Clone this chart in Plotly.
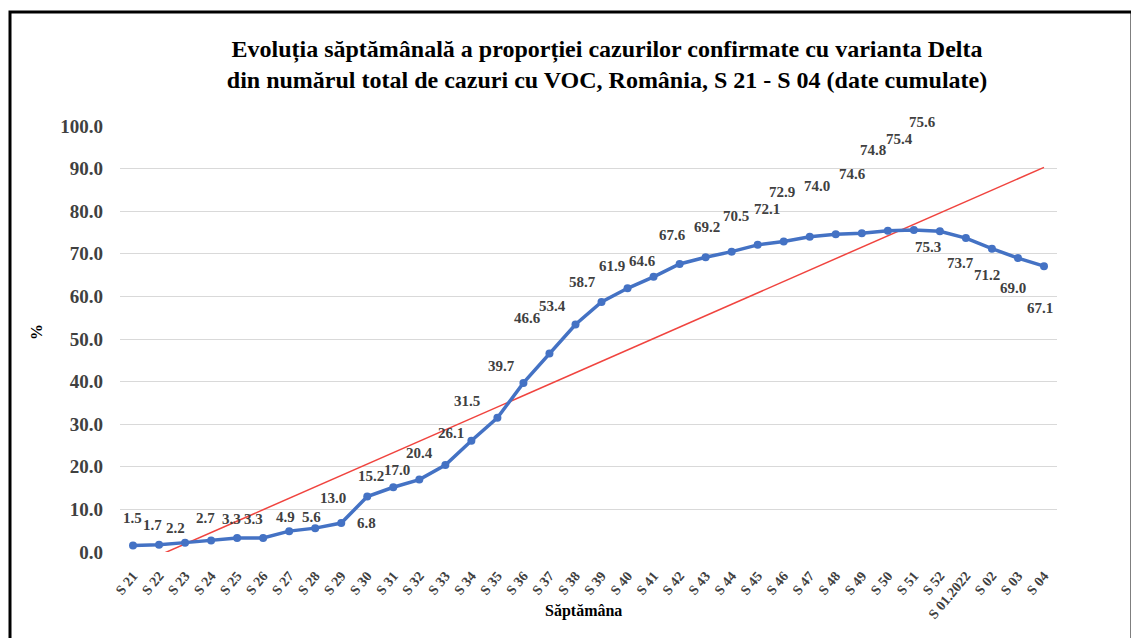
import numpy as np
import plotly.graph_objects as go

# ---- data ----
weeks = ["S 21", "S 22", "S 23", "S 24", "S 25", "S 26", "S 27", "S 28", "S 29", "S 30",
         "S 31", "S 32", "S 33", "S 34", "S 35", "S 36", "S 37", "S 38", "S 39", "S 40",
         "S 41", "S 42", "S 43", "S 44", "S 45", "S 46", "S 47", "S 48", "S 49", "S 50",
         "S 51", "S 52", "S 01.2022", "S 02", "S 03", "S 04"]
delta_pct = [1.5, 1.7, 2.2, 2.7, 3.3, 3.3, 4.9, 5.6, 6.8, 13.0,
             15.2, 17.0, 20.4, 26.1, 31.5, 39.7, 46.6, 53.4, 58.7, 61.9,
             64.6, 67.6, 69.2, 70.5, 72.1, 72.9, 74.0, 74.6, 74.8, 75.4,
             75.6, 75.3, 73.7, 71.2, 69.0, 67.1]
y_ticks = [0, 10, 20, 30, 40, 50, 60, 70, 80, 90, 100]

# ---- label placement (pixel shifts, styling only) ----
label_dx = [-1, -7, -10, -6, -6, -10, -4, -4, 25, -34,
            -22, -22, -26, -20, -30, -22, -22, -23, -19, -16,
            -11, -7, 1, 4, 9, -2, 7, 17, 11, 12,
            9, -12, -5, -5, -5, -4]
label_dy = [-28, -20, -15, -23, -19, -19, -14, -11, 0, 1,
            -11, -10, -12, -8, -17, -17, -35, -19, -20, -22,
            -16, -29, -30, -36, -36, -49, -51, -60, -83, -92,
            -108, 16, 25, 26, 30, 42]

W, H = 1139, 638
OFF = 8  # default page body margin
# desired plot area in page pixels
PL, PR, PT, PB = 120, 1057, 126, 552
ML, MR, MT, MB = PL - OFF, W - (PR - OFF), PT - OFF, H - (PB - OFF)
pw, ph = PR - PL, PB - PT


def px_x(x):
    return (x - PL) / pw


def px_y(y):
    return (PB - y) / ph


idx = np.arange(len(weeks))
slope, intercept = np.polyfit(idx, delta_pct, 1)
trend = slope * idx + intercept

serif = "Liberation Serif, Times New Roman, serif"
fig = go.Figure()
fig.add_trace(go.Scatter(
    x=weeks, y=trend, mode="lines",
    line=dict(color="#F0443F", width=1.5),
    showlegend=False))
fig.add_trace(go.Scatter(
    x=weeks, y=delta_pct, mode="lines+markers",
    line=dict(color="#4472C4", width=3.5),
    marker=dict(size=8, color="#4472C4"),
    showlegend=False, cliponaxis=False))

for w, v, dx, dy in zip(weeks, delta_pct, label_dx, label_dy):
    fig.add_annotation(x=w, y=v, text=f"{v:.1f}", showarrow=False,
                       xshift=dx, yshift=-dy,
                       font=dict(family=serif, size=15, color="#404040", weight="bold"))

# axis titles
fig.add_annotation(xref="paper", yref="paper", x=px_x(583), y=px_y(611),
                   xanchor="center", yanchor="middle",
                   text="Săptămâna", showarrow=False,
                   font=dict(family=serif, size=16, color="black", weight="bold"))
fig.add_annotation(xref="paper", yref="paper", x=px_x(36), y=px_y(332),
                   xanchor="center", yanchor="middle",
                   text="%", showarrow=False, textangle=-90,
                   font=dict(family=serif, size=16, color="black", weight="bold"))

# outer frame
fig.add_shape(type="rect", xref="paper", yref="paper",
              x0=px_x(10), x1=px_x(1132), y0=px_y(660), y1=px_y(12),
              line=dict(color="black", width=3), fillcolor="rgba(0,0,0,0)")

fig.update_layout(
    width=W, height=H,
    margin=dict(l=ML, r=MR, t=MT, b=MB),
    paper_bgcolor="white", plot_bgcolor="white",
    title=dict(
        text="Evoluția săptămânală a proporției cazurilor confirmate cu varianta Delta<br>"
             "din numărul total de cazuri cu VOC, România, S 21 - S 04 (date cumulate)",
        x=(607 - OFF) / W, xanchor="center", xref="container",
        y=1 - (57 - OFF) / H, yanchor="middle", yref="container",
        font=dict(family=serif, size=24, color="black", weight="bold")),
    xaxis=dict(
        type="category", range=[-0.5, len(weeks) - 0.5],
        tickangle=-50, showgrid=False, showline=False, zeroline=False,
        ticklabelstandoff=12,
        tickfont=dict(family=serif, size=14, color="#404040", weight="bold")),
    yaxis=dict(
        range=[0, 100], tickvals=y_ticks,
        ticktext=[f"{t:.1f}" for t in y_ticks],
        showgrid=True, gridcolor="#D9D9D9", gridwidth=1,
        zeroline=False, showline=False, ticklabelstandoff=16,
        tickfont=dict(family=serif, size=19, color="#404040", weight="bold")),
)

fig.write_html("out.html")
